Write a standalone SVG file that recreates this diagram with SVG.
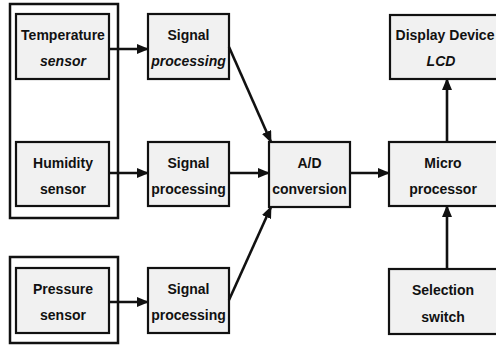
<svg xmlns="http://www.w3.org/2000/svg" width="496" height="345" viewBox="0 0 496 345">
  <style>
    .box { fill: #f1f1f1; stroke: #111; stroke-width: 2.2; }
    .frame { fill: none; stroke: #111; stroke-width: 2.5; }
    .lbl { font-family: "Liberation Sans", Arial, sans-serif; font-size: 14px; font-weight: bold; fill: #111; text-anchor: middle; }
    .it { font-style: italic; }
    .wire { stroke: #111; stroke-width: 2.6; fill: none; marker-end: url(#head); }
  </style>
  <defs>
    <marker id="head" markerWidth="12" markerHeight="10" refX="11" refY="5" orient="auto" markerUnits="userSpaceOnUse">
      <path d="M0,0 L12,5 L0,10 Z" fill="#111"/>
    </marker>
  </defs>
  <rect width="496" height="345" fill="#fff"/>

  <!-- sensor housings -->
  <g id="housing-upper"><rect class="frame" x="10" y="4" width="108" height="214"/></g>
  <g id="housing-lower"><rect class="frame" x="10" y="257" width="108" height="86"/></g>

  <g id="temperature-sensor">
    <rect class="box" x="16" y="14" width="93" height="65"/>
    <text class="lbl" x="63" y="40">Temperature</text>
    <text class="lbl it" x="63" y="66">sensor</text>
  </g>
  <g id="humidity-sensor">
    <rect class="box" x="16" y="142" width="93" height="64"/>
    <text class="lbl" x="63" y="168">Humidity</text>
    <text class="lbl" x="63" y="194">sensor</text>
  </g>
  <g id="pressure-sensor">
    <rect class="box" x="16" y="268" width="93" height="65"/>
    <text class="lbl" x="63" y="294">Pressure</text>
    <text class="lbl" x="63" y="320">sensor</text>
  </g>

  <g id="signal-processing-1">
    <rect class="box" x="148" y="14" width="81" height="65"/>
    <text class="lbl" x="188.5" y="40">Signal</text>
    <text class="lbl it" x="188.5" y="66">processing</text>
  </g>
  <g id="signal-processing-2">
    <rect class="box" x="148" y="142" width="81" height="64"/>
    <text class="lbl" x="188.5" y="168">Signal</text>
    <text class="lbl" x="188.5" y="194">processing</text>
  </g>
  <g id="signal-processing-3">
    <rect class="box" x="148" y="268" width="81" height="65"/>
    <text class="lbl" x="188.5" y="294">Signal</text>
    <text class="lbl" x="188.5" y="320">processing</text>
  </g>

  <g id="ad-conversion">
    <rect class="box" x="269" y="142" width="81" height="65"/>
    <text class="lbl" x="309.5" y="168">A/D</text>
    <text class="lbl" x="309.5" y="194">conversion</text>
  </g>

  <g id="display-device">
    <rect class="box" x="390" y="15" width="112" height="64"/>
    <text class="lbl" x="445" y="40">Display Device</text>
    <text class="lbl it" x="441" y="66">LCD</text>
  </g>
  <g id="microprocessor">
    <rect class="box" x="389" y="142" width="113" height="64"/>
    <text class="lbl" x="443" y="168">Micro</text>
    <text class="lbl" x="443" y="194">processor</text>
  </g>
  <g id="selection-switch">
    <rect class="box" x="389" y="269" width="113" height="65"/>
    <text class="lbl" x="443" y="295">Selection</text>
    <text class="lbl" x="443" y="322">switch</text>
  </g>

  <g id="connectors">
    <line class="wire" x1="109" y1="49" x2="148" y2="49"/>
    <line class="wire" x1="109" y1="173" x2="148" y2="173"/>
    <line class="wire" x1="109" y1="302" x2="148" y2="302"/>
    <line class="wire" x1="229" y1="47" x2="271" y2="142"/>
    <line class="wire" x1="229" y1="173" x2="269" y2="173"/>
    <line class="wire" x1="229" y1="300" x2="271" y2="207"/>
    <line class="wire" x1="350" y1="173" x2="389" y2="173"/>
    <line class="wire" x1="447" y1="142" x2="447" y2="79"/>
    <line class="wire" x1="447" y1="269" x2="447" y2="206"/>
  </g>
</svg>
